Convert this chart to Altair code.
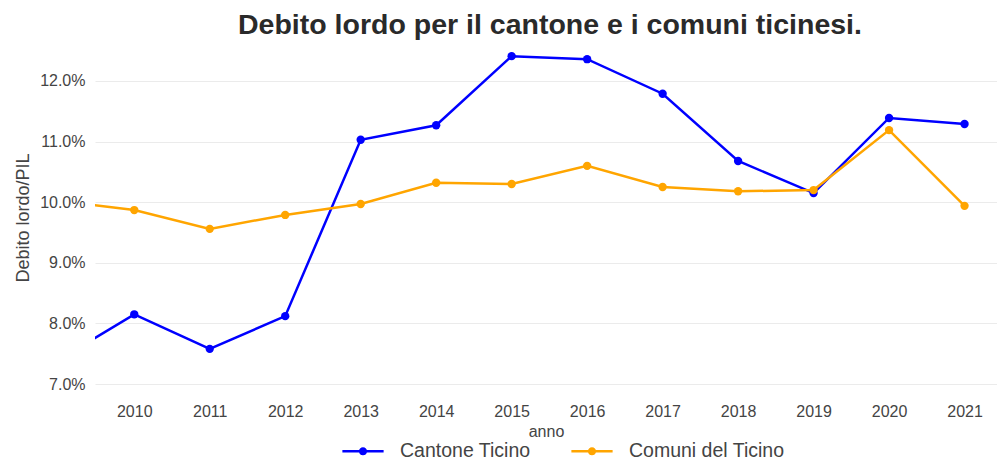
import altair as alt
import pandas as pd

years = [2009, 2010, 2011, 2012, 2013, 2014, 2015, 2016, 2017, 2018, 2019, 2020, 2021]
cantone = [7.40, 8.15, 7.58, 8.12, 11.03, 11.27, 12.41, 12.36, 11.79, 10.68, 10.15, 11.39, 11.29]
comuni = [10.02, 9.87, 9.56, 9.79, 9.97, 10.32, 10.30, 10.60, 10.25, 10.18, 10.20, 11.19, 9.94]
series_names = ["Cantone Ticino", "Comuni del Ticino"]
series_colors = ["#0000FF", "#FFA500"]
y_ticks = [7, 8, 9, 10, 11, 12]
x_ticks = [2010, 2011, 2012, 2013, 2014, 2015, 2016, 2017, 2018, 2019, 2020, 2021]

rows = []
for y, a, b in zip(years, cantone, comuni):
    rows.append({"anno": y, "serie": series_names[0], "val": a / 100})
    rows.append({"anno": y, "serie": series_names[1], "val": b / 100})
df = pd.DataFrame(rows)

FONT = "Liberation Sans"
W, H = 902, 345

legend_symbol = ("M-1,-0.06L1,-0.06L1,0.06L-1,0.06Z"
                 "M0.2,0A0.2,0.2,0,1,1,-0.2,0A0.2,0.2,0,1,1,0.2,0Z")

x = alt.X("anno:Q", title="anno",
          scale=alt.Scale(domain=[2009.48, 2021.43], nice=False, zero=False),
          axis=alt.Axis(values=x_ticks, format="d", grid=False, domain=False, ticks=False,
                        labelFontSize=16, labelColor="#444", labelPadding=13,
                        titleFontSize=16, titleColor="#444", titleFontWeight="normal",
                        titlePadding=4, labelFont=FONT, titleFont=FONT))
y = alt.Y("val:Q", title="Debito lordo/PIL",
          scale=alt.Scale(domain=[0.06901, 0.12594], nice=False, zero=False),
          axis=alt.Axis(values=[v / 100 for v in y_ticks], format=".1%", grid=True,
                        gridColor="#ebebeb", domain=False, ticks=False,
                        labelFontSize=16, labelColor="#444", labelPadding=10,
                        titleFontSize=18, titleColor="#444", titleFontWeight="normal",
                        titlePadding=7, labelFont=FONT, titleFont=FONT))
color = alt.Color("serie:N", scale=alt.Scale(domain=series_names, range=series_colors),
                  legend=alt.Legend(title=None, orient="none", direction="horizontal",
                                    legendX=247, legendY=385,
                                    labelFontSize=19.5, labelColor="#444", labelFont=FONT,
                                    symbolType=legend_symbol, symbolSize=1700,
                                    symbolStrokeWidth=0, symbolOpacity=1,
                                    columnPadding=40, labelOffset=16))

base = alt.Chart(df)
lines = base.mark_line(strokeWidth=2.5, clip=True).encode(x=x, y=y, color=color)
pts = base.mark_circle(size=70, opacity=1, clip=True).encode(x=x, y=y, color=color)

chart = alt.layer(lines, pts).properties(
    width=W, height=H,
    background="white",
    title=alt.TitleParams("Debito lordo per il cantone e i comuni ticinesi.", fontSize=28.5,
                          font=FONT, fontWeight="bold", color="#2a2a2a", anchor="middle",
                          offset=6, dx=4),
    autosize=alt.AutoSizeParams(type="none"),
    padding={"left": 87, "top": 37, "right": 0, "bottom": 71},
).configure_view(strokeWidth=0, stroke="transparent")

chart.save("out.html", embed_options={"renderer": "svg", "actions": False})
